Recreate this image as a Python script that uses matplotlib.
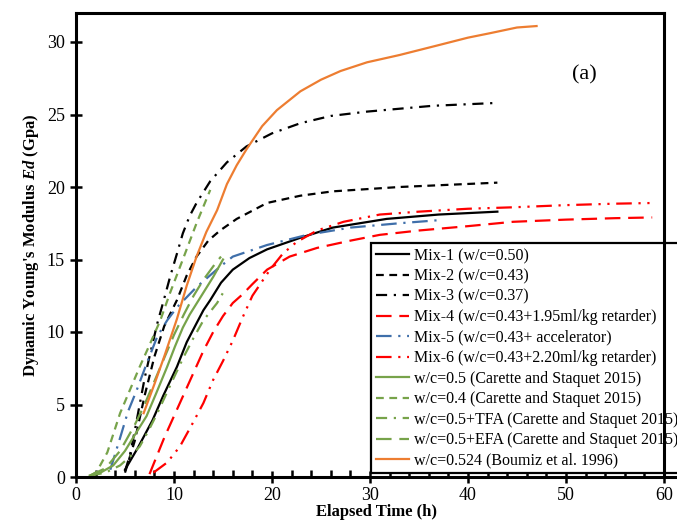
import matplotlib
matplotlib.use("Agg")
import matplotlib.pyplot as plt
from matplotlib.ticker import MultipleLocator

plt.rcParams["font.family"] = ["Liberation Serif", "DejaVu Serif"]
plt.rcParams["mathtext.fontset"] = "custom"
plt.rcParams["mathtext.rm"] = "Liberation Serif:bold"
plt.rcParams["mathtext.bfit"] = "Liberation Serif:italic:bold"
plt.rcParams["mathtext.it"] = "Liberation Serif:italic:bold"

# elapsed time (h) and Ed (GPa)
mix1_t = [5.0, 6.3, 7.8, 8.9, 10.3, 11.3, 12.3, 13.0, 13.7, 14.8, 16.0, 17.7, 19.5, 22.9, 26.2, 31.7, 37.0, 43.0]
mix1_e = [0.5, 2.0, 3.9, 5.6, 7.6, 9.3, 10.6, 11.5, 12.2, 13.4, 14.3, 15.1, 15.7, 16.5, 17.2, 17.8, 18.1, 18.3]

mix2_t = [5.0, 6.0, 7.0, 8.0, 9.0, 10.3, 11.3, 12.3, 13.5, 14.7, 16.4, 19.5, 22.9, 26.2, 33.0, 43.0]
mix2_e = [0.3, 2.5, 5.6, 8.3, 10.4, 12.2, 13.9, 15.2, 16.3, 17.0, 17.8, 18.9, 19.4, 19.7, 20.0, 20.3]

mix3_t = [5.0, 5.5, 6.0, 6.5, 7.0, 7.5, 8.3, 9.0, 9.6, 10.3, 10.9, 11.6, 12.3, 13.7, 15.4, 17.4,
          20.0, 22.9, 26.0, 29.7, 36.4, 43.0]
mix3_e = [0.4, 1.5, 3.2, 5.0, 6.8, 8.3, 10.6, 12.3, 13.8, 15.4, 16.8, 18.0, 18.9, 20.4, 21.7, 22.8,
          23.7, 24.4, 24.9, 25.2, 25.6, 25.8]

mix4_t = [7.5, 8.1, 9.0, 10.0, 11.0, 12.0, 13.0, 14.0, 15.0, 16.0, 17.0, 18.0, 19.5, 21.8, 24.6,
          28.0, 31.0, 35.0, 40.0, 44.6, 50.0, 55.0, 58.8]
mix4_e = [0.2, 1.2, 2.7, 4.2, 5.7, 7.2, 8.7, 10.0, 11.1, 12.0, 12.6, 13.3, 14.3, 15.2, 15.8,
          16.3, 16.7, 17.0, 17.3, 17.6, 17.75, 17.85, 17.9]

mix5_t = [3.5, 4.5, 5.3, 6.2, 7.2, 8.3, 9.3, 10.3, 12.3, 14.7, 16.0, 19.5, 23.6, 28.0, 33.0, 36.8]
mix5_e = [0.5, 2.7, 4.5, 6.0, 7.8, 9.7, 10.8, 11.7, 13.1, 14.5, 15.2, 16.0, 16.7, 17.2, 17.5, 17.7]

mix6_t = [7.9, 9.3, 10.6, 11.9, 13.0, 14.0, 15.0, 16.0, 17.0, 18.0, 19.8, 21.1, 22.5, 24.6, 27.3,
          31.0, 35.0, 40.0, 44.6, 50.0, 55.0, 59.1]
mix6_e = [0.3, 1.0, 2.1, 3.7, 5.1, 6.7, 8.0, 9.4, 11.0, 12.5, 14.3, 15.4, 16.2, 17.0, 17.6,
          18.1, 18.3, 18.5, 18.6, 18.75, 18.85, 18.9]

c05_t = [1.4, 2.5, 3.8, 5.0, 6.0, 7.2, 8.2, 9.3, 10.1, 10.9, 11.6, 12.8, 14.0, 15.0]
c05_e = [0.1, 0.3, 0.8, 1.8, 2.9, 4.2, 5.8, 7.6, 9.0, 10.3, 11.2, 12.5, 13.8, 15.0]

c04_t = [1.5, 2.1, 3.2, 4.5, 5.5, 6.5, 7.5, 8.6, 9.6, 10.9, 12.3, 13.7]
c04_e = [0.1, 0.35, 1.7, 4.4, 6.0, 7.6, 9.1, 10.8, 12.7, 15.0, 17.5, 19.8]

tfa_t = [1.5, 3.0, 4.5, 5.5, 6.5, 7.4, 8.3, 9.6, 11.0, 12.0, 13.0, 14.4, 15.0]
tfa_e = [0.1, 0.3, 0.8, 1.4, 2.1, 3.2, 4.4, 6.3, 8.3, 9.6, 10.8, 12.0, 12.7]

efa_t = [1.4, 3.0, 4.5, 6.0, 7.0, 8.0, 9.0, 10.0, 11.0, 12.0, 13.0, 14.3, 14.8]
efa_e = [0.1, 0.6, 1.8, 3.6, 5.0, 6.6, 8.2, 9.8, 11.2, 12.5, 13.6, 14.8, 15.2]

boumiz_t = [6.9, 8.0, 9.0, 10.3, 11.3, 12.3, 13.3, 14.4, 15.4, 16.4, 17.4, 19.0, 20.5, 22.9, 25.0,
            27.0, 29.7, 33.0, 37.1, 40.0, 42.2, 45.0, 47.0]
boumiz_e = [4.4, 6.4, 8.3, 10.9, 13.2, 15.2, 16.9, 18.4, 20.2, 21.5, 22.6, 24.2, 25.3, 26.6, 27.4,
            28.0, 28.6, 29.1, 29.8, 30.3, 30.6, 31.0, 31.1]

labels = [
    "Mix-1 (w/c=0.50)",
    "Mix-2 (w/c=0.43)",
    "Mix-3 (w/c=0.37)",
    "Mix-4 (w/c=0.43+1.95ml/kg retarder)",
    "Mix-5 (w/c=0.43+ accelerator)",
    "Mix-6 (w/c=0.43+2.20ml/kg retarder)",
    "w/c=0.5 (Carette and Staquet 2015)",
    "w/c=0.4 (Carette and Staquet 2015)",
    "w/c=0.5+TFA (Carette and Staquet 2015)",
    "w/c=0.5+EFA (Carette and Staquet 2015)",
    "w/c=0.524 (Boumiz et al. 1996)",
]

GREEN = "#77A34A"
series = [
    (mix1_t, mix1_e, "black", "-"),
    (mix2_t, mix2_e, "black", (0, (3.5, 2.5))),
    (mix3_t, mix3_e, "black", (0, (5, 3, 1, 3))),
    (mix4_t, mix4_e, "#FF0000", (0, (7, 3.5))),
    (mix5_t, mix5_e, "#3F6FAA", (0, (7, 3, 1, 3))),
    (mix6_t, mix6_e, "#FF0000", (0, (7, 3, 1, 3, 1, 3))),
    (c05_t, c05_e, GREEN, "-"),
    (c04_t, c04_e, GREEN, (0, (3.5, 2.5))),
    (tfa_t, tfa_e, GREEN, (0, (5, 3, 1, 3))),
    (efa_t, efa_e, GREEN, (0, (7, 3.5))),
    (boumiz_t, boumiz_e, "#ED7D31", "-"),
]

fig = plt.figure(figsize=(6.77, 5.23), dpi=100)
ax = fig.add_axes([76 / 677, 1 - 477 / 523, 601 / 677, 464 / 523])

for (t, e, color, ls), lab in zip(series, labels):
    ax.plot(t, e, color=color, linestyle=ls, linewidth=1.6, label=lab)

ax.set_xlim(0, 61.33)
ax.set_ylim(0, 32)
ax.xaxis.set_major_locator(MultipleLocator(10))
ax.xaxis.set_minor_locator(MultipleLocator(2))
ax.yaxis.set_major_locator(MultipleLocator(5))

for side in ["left", "bottom", "top"]:
    ax.spines[side].set_linewidth(2.2)
ax.spines["right"].set_visible(False)
ax.spines["top"].set_bounds(0, 60)

ax.tick_params(axis="both", which="major", direction="inout", length=9, width=1.8,
               labelsize=13, top=False, right=False)
ax.tick_params(axis="x", which="minor", direction="in", length=5, width=1.8)
ax.tick_params(axis="x", which="major", pad=3)

ax.set_xlabel("Elapsed Time (h)", fontsize=12, fontweight="bold", labelpad=0)
ax.set_ylabel("Dynamic Young's Modulus $\\mathbfit{Ed}$ (Gpa)", fontsize=12,
              fontweight="bold", labelpad=4)

ax.text(51.9, 27.7, "(a)", fontsize=16, ha="center", va="center")

leg = ax.legend(loc="upper right", bbox_to_anchor=(1.01, 0.504), borderaxespad=0,
                fontsize=11.5, handlelength=2.1, handletextpad=0.3, labelspacing=0.28,
                borderpad=0.3, fancybox=False, framealpha=1, edgecolor="black")
leg.get_frame().set_linewidth(1.6)
leg.set_zorder(5)

# plot-area border on the right, drawn over the legend
ax.plot([60, 60], [0, 32], color="black", linewidth=2.2, clip_on=False, zorder=6)

fig.savefig("out.png", dpi=100)
